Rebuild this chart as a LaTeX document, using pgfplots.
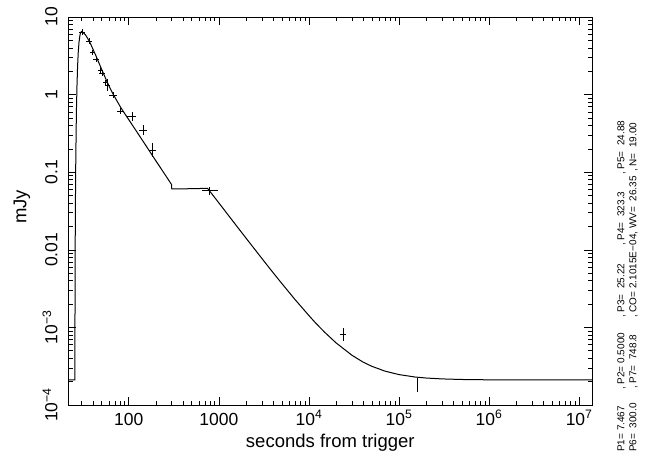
\documentclass[border=0pt]{standalone}
\usepackage{fontspec}
\setmainfont{Liberation Sans}
\usepackage{pgfplots}
\pgfplotsset{compat=1.18}
\begin{document}
\begin{tikzpicture}
\path[use as bounding box] (-68.3pt,-52pt) rectangle (586.7pt,405pt);
\begin{axis}[
  at={(0pt,0pt)}, anchor=south west,
  scale only axis, width=524pt, height=388pt,
  xmode=log, ymode=log,
  xmin=21.3, xmax=1.4e7, ymin=1e-4, ymax=10,
  axis line style={line width=0.8pt},
  tick style={black, line width=0.6pt},
  major tick length=8pt, minor tick length=4.5pt,
  tick align=inside,
  xtick={100,1000,1e4,1e5,1e6,1e7},
  xticklabels={100,1000,10\textsuperscript{4},10\textsuperscript{5},10\textsuperscript{6},10\textsuperscript{7}},
  minor xtick={30,40,50,60,70,80,90,200,300,400,500,600,700,800,900,2000,3000,4000,5000,6000,7000,8000,9000,2e4,3e4,4e4,5e4,6e4,7e4,8e4,9e4,2e5,3e5,4e5,5e5,6e5,7e5,8e5,9e5,2e6,3e6,4e6,5e6,6e6,7e6,8e6,9e6},
  ytick={1e-4,1e-3,0.01,0.1,1,10},
  yticklabels={10\textsuperscript{−4},10\textsuperscript{−3},0.01,0.1,1,10},
  minor ytick={2e-4,3e-4,4e-4,5e-4,6e-4,7e-4,8e-4,9e-4,2e-3,3e-3,4e-3,5e-3,6e-3,7e-3,8e-3,9e-3,0.02,0.03,0.04,0.05,0.06,0.07,0.08,0.09,0.2,0.3,0.4,0.5,0.6,0.7,0.8,0.9,2,3,4,5,6,7,8,9},
  ticklabel style={font=\fontsize{17.5}{20}\selectfont},
  xticklabel style={anchor=base, yshift=-20pt, inner sep=0pt},
  yticklabel style={xshift=-11pt, rotate=90, anchor=base, inner sep=0pt},
  every axis x label/.style={at={(axis description cs:0.5,0)}, anchor=base, yshift=-42pt, inner sep=0pt, font=\fontsize{18.5}{22}\selectfont},
  every axis y label/.style={at={(axis description cs:0,0.5)}, xshift=-42pt, yshift=4pt, rotate=90, anchor=base, inner sep=0pt, font=\fontsize{18.5}{22}\selectfont},
  xlabel={seconds from trigger},
  ylabel={mJy},
]
\addplot[black, line width=1pt, mark=none] coordinates {
(21.3,2.1e-4) (25.22,2.1e-4) (25.3,0.003) (25.5,0.03) (25.8,0.15) (26.2,0.6) (26.6,1.3) (27.0,2.3) (27.5,3.6) (28.0,4.7) (28.6,5.7) (29.2,6.3) (29.9,6.5)
(31,6.35) (33,5.9) (35,5.3) (37.5,4.55) (40,3.85) (43,3.2) (47,2.5) (52,1.9) (58,1.42) (65,1.08) (73,0.85) (80.9,0.69) (90,0.57) (100,0.475) (120,0.345) (150,0.233) (200,0.140) (250,0.0948) (298,0.0695)
(300,0.0608) (450,0.0612) (600,0.0616) (748.8,0.0620)
(1000,0.0402) (1500,0.0218) (2000,0.01417) (3000,0.00775) (4000,0.00507) (5000,0.00368) (7000,0.00229) (10000,0.00142) (12000,0.001124) (15000,8.63e-4) (20000,6.32e-4) (30000,4.38e-4) (40000,3.567e-4) (50000,3.15e-4) (70000,2.73e-4) (1e5,2.465e-4) (1.5e5,2.296e-4) (2e5,2.227e-4) (3e5,2.169e-4) (5e5,2.132e-4) (1e6,2.111e-4) (1e7,2.102e-4) (1.4e7,2.102e-4)
};
\addplot[draw=none, mark=none,
  error bars/.cd, x dir=both, x explicit, y dir=both, y explicit, error mark=none,
  error bar style={draw=black, line width=0.7pt}] coordinates {
(30.3,6.36) += (2.16,0.551) -= (2.02,0.507)
(36.3,4.91) += (2.59,0.425) -= (2.42,0.391)
(39.6,3.47) += (2.83,0.30) -= (2.64,0.277)
(43.1,2.85) += (3.08,0.247) -= (2.87,0.227)
(48.6,2.08) += (3.47,0.18) -= (3.24,0.166)
(50.6,1.88) += (3.61,0.163) -= (3.37,0.15)
(55.2,1.42) += (3.94,0.123) -= (3.68,0.113)
(58.1,1.33) += (4.15,0.259) -= (3.87,0.217)
(67.0,0.98) += (7.21,0.085) -= (6.51,0.078)
(80.9,0.612) += (7.56,0.057) -= (6.92,0.052)
(108.4,0.525) += (13.19,0.075) -= (11.76,0.0656)
(144.2,0.35) += (15.5,0.056) -= (14.0,0.0483)
(181.3,0.193) += (16.95,0.0446) -= (15.5,0.0362)
(791,0.0578) += (179.5,0.0073) -= (146,0.00647)
(23800,8.15e-4) += (1700,1.79e-4) -= (1585,1.47e-4)
(1.59e5,1.85e-4) += (0,4.0e-5) -= (0,3.9e-5)
};
\end{axis}
\begin{scope}[every node/.style={rotate=90, anchor=base west, inner sep=0pt, font=\fontsize{10}{12}\selectfont}]
\node at (556pt,-47pt) {P1=~7.467};
\node at (556pt,15pt) {,~P2=~0.5000};
\node at (556pt,87pt) {,~P3=~~25.22};
\node at (556pt,159pt) {,~P4=~~323.3};
\node at (556pt,230pt) {,~P5=~~24.88};
\node at (568pt,-47pt) {P6=~~300.0};
\node at (568pt,16pt) {,~P7=~~748.8};
\node at (568pt,87pt) {,~CO=~2.1015E−04,~WV=~~26.35};
\node at (568pt,233pt) {,~N=~~19.00};
\end{scope}
\end{tikzpicture}
\end{document}
